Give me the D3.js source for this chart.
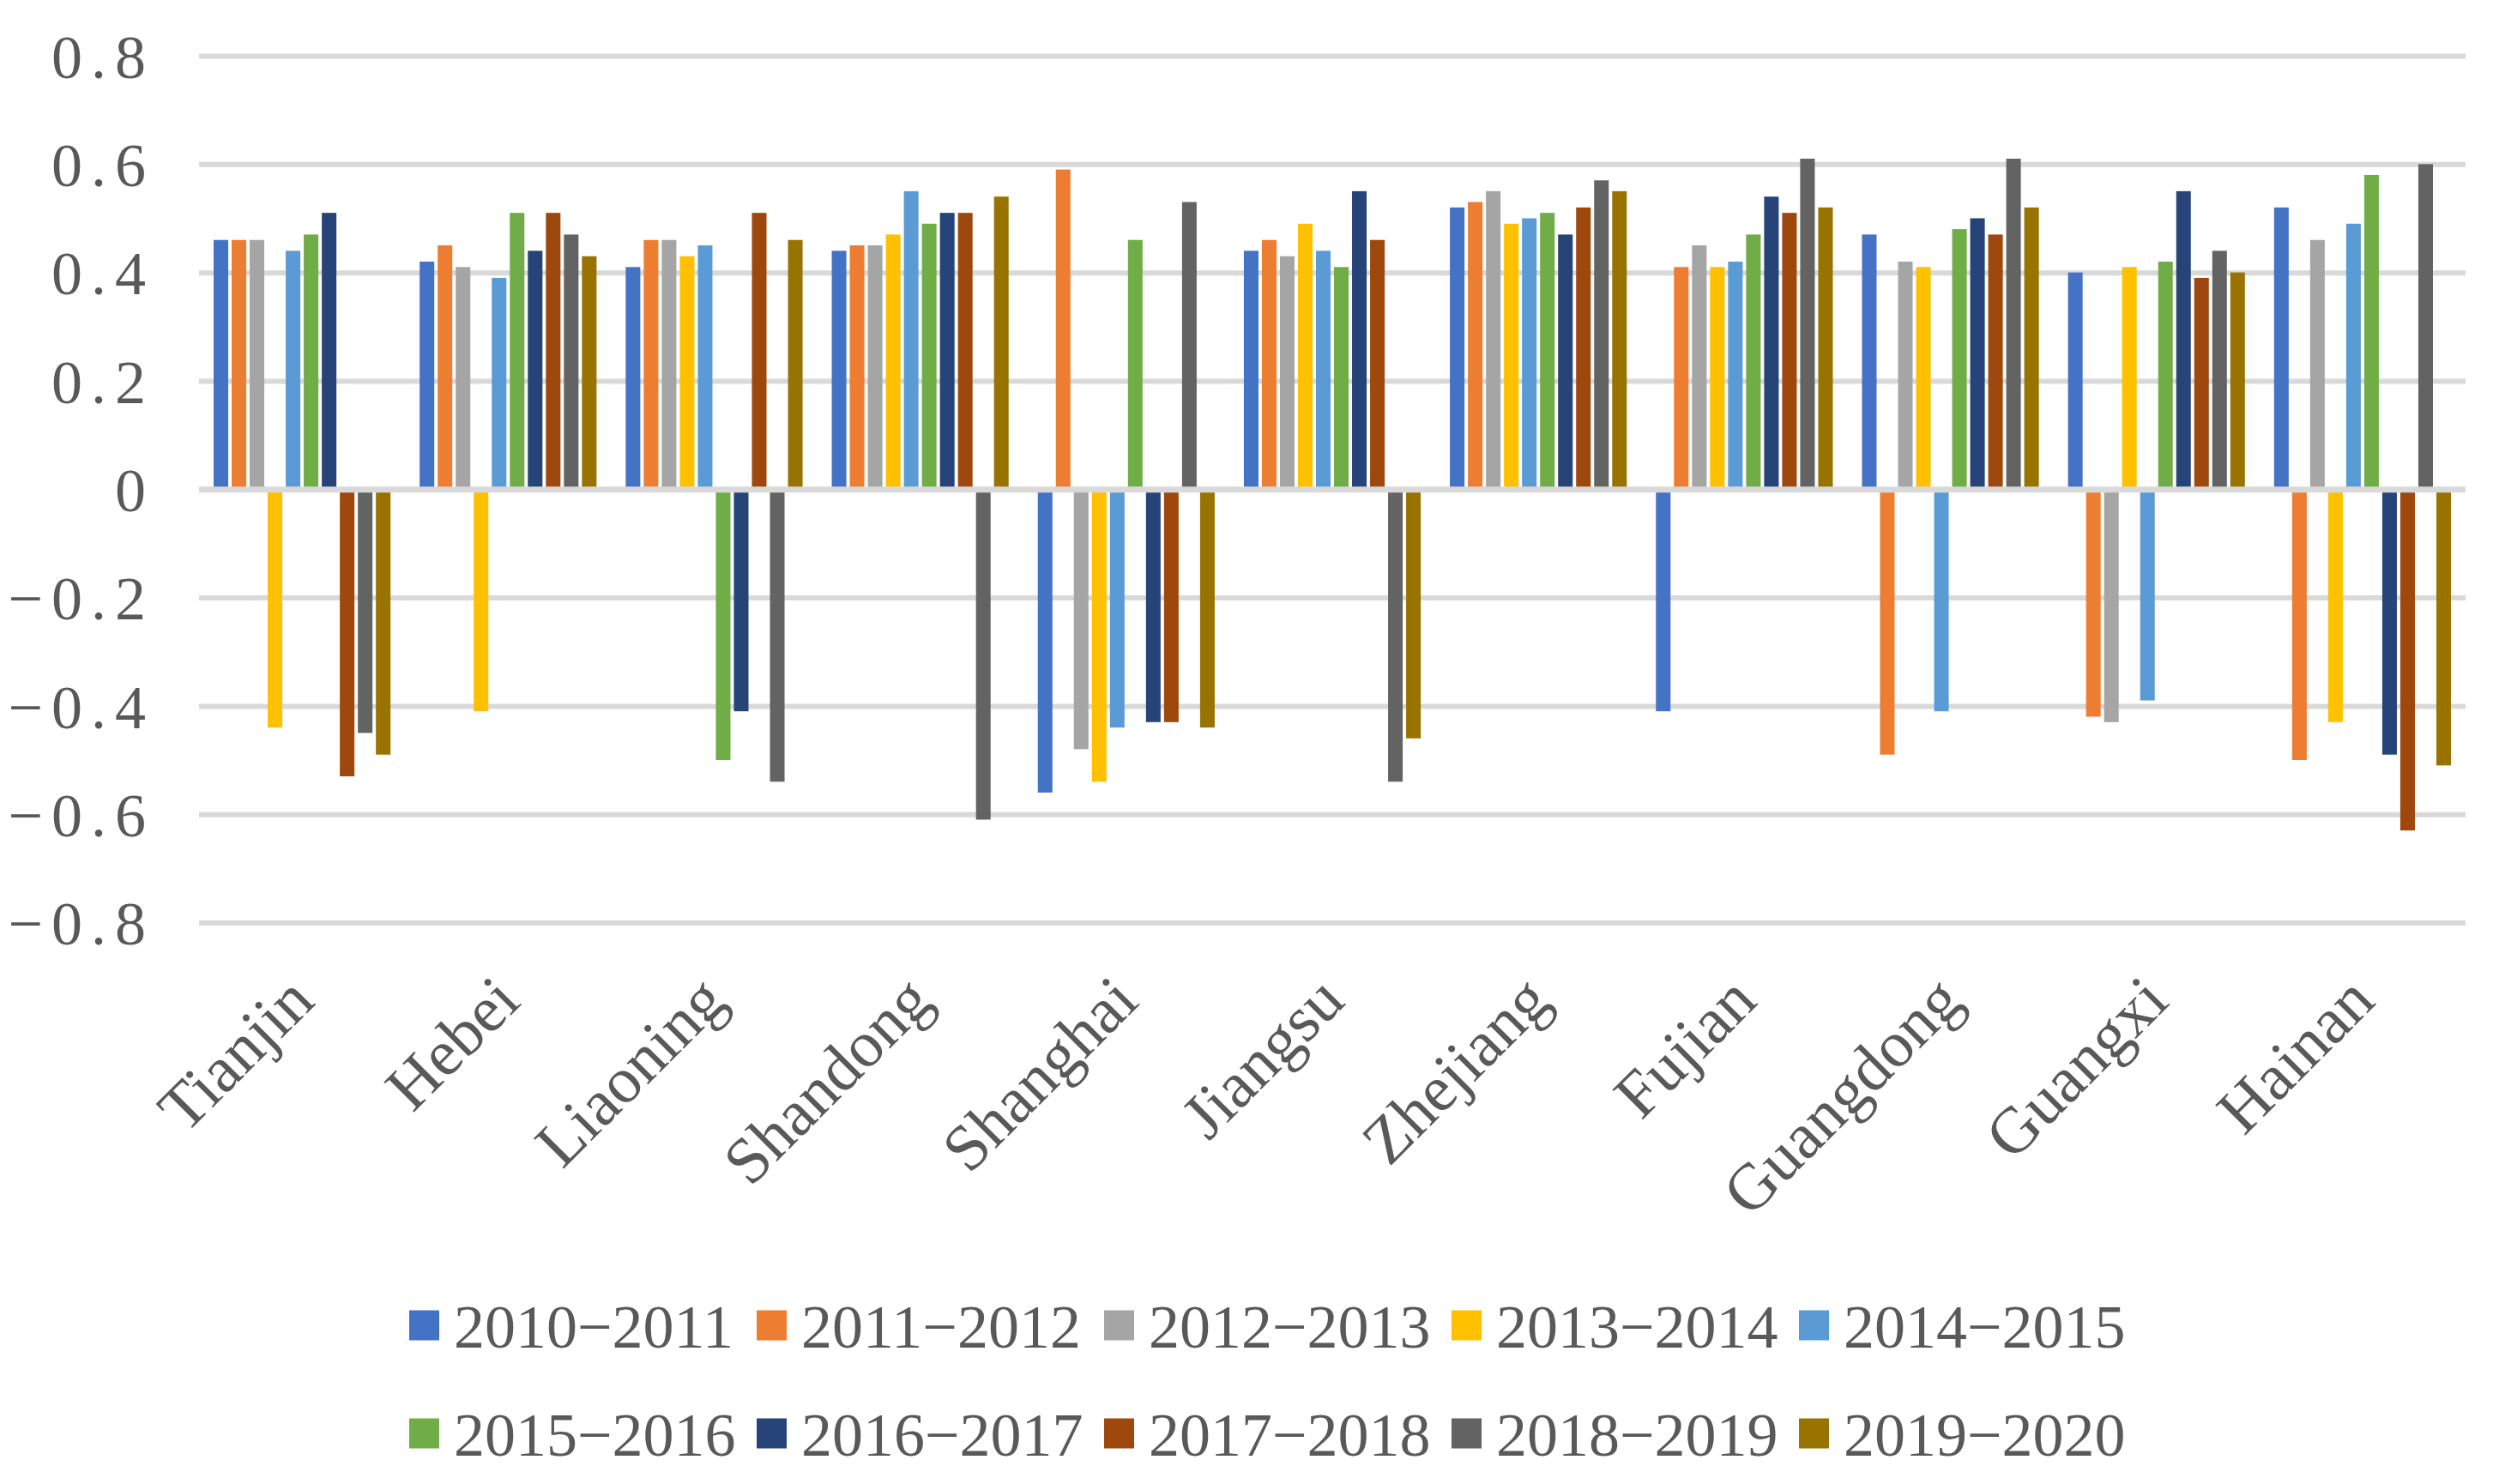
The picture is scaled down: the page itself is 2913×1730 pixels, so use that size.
<!DOCTYPE html>
<html>
<head>
<meta charset="utf-8">
<script src="https://cdn.jsdelivr.net/npm/d3@7"></script>
<style>
  html, body { margin: 0; padding: 0; background: #ffffff; }
  svg { display: block; }
</style>
</head>
<body>
<svg id="chart" width="2913" height="1730"></svg>
<script>
// ---------------- data ----------------
const categories = ["Tianjin", "Hebei", "Liaoning", "Shandong", "Shanghai", "Jiangsu",
                    "Zhejiang", "Fujian", "Guangdong", "Guangxi", "Hainan"];
const seriesNames = ["2010-2011", "2011-2012", "2012-2013", "2013-2014", "2014-2015",
                     "2015-2016", "2016-2017", "2017-2018", "2018-2019", "2019-2020"];
const seriesColors = ["#4472C4", "#ED7D31", "#A5A5A5", "#FFC000", "#5B9BD5",
                      "#70AD47", "#264478", "#9E480E", "#636363", "#997300"];

const s2010_2011 = [0.46, 0.42, 0.41, 0.44, -0.56, 0.44, 0.52, -0.41, 0.47, 0.40, 0.52];
const s2011_2012 = [0.46, 0.45, 0.46, 0.45, 0.59, 0.46, 0.53, 0.41, -0.49, -0.42, -0.50];
const s2012_2013 = [0.46, 0.41, 0.46, 0.45, -0.48, 0.43, 0.55, 0.45, 0.42, -0.43, 0.46];
const s2013_2014 = [-0.44, -0.41, 0.43, 0.47, -0.54, 0.49, 0.49, 0.41, 0.41, 0.41, -0.43];
const s2014_2015 = [0.44, 0.39, 0.45, 0.55, -0.44, 0.44, 0.50, 0.42, -0.41, -0.39, 0.49];
const s2015_2016 = [0.47, 0.51, -0.50, 0.49, 0.46, 0.41, 0.51, 0.47, 0.48, 0.42, 0.58];
const s2016_2017 = [0.51, 0.44, -0.41, 0.51, -0.43, 0.55, 0.47, 0.54, 0.50, 0.55, -0.49];
const s2017_2018 = [-0.53, 0.51, 0.51, 0.51, -0.43, 0.46, 0.52, 0.51, 0.47, 0.39, -0.63];
const s2018_2019 = [-0.45, 0.47, -0.54, -0.61, 0.53, -0.54, 0.57, 0.61, 0.61, 0.44, 0.60];
const s2019_2020 = [-0.49, 0.43, 0.46, 0.54, -0.44, -0.46, 0.55, 0.52, 0.52, 0.40, -0.51];

const yTickValues = [-0.8, -0.6, -0.4, -0.2, 0, 0.2, 0.4, 0.6, 0.8];
const yTickLabels = ["\u22120.8", "\u22120.6", "\u22120.4", "\u22120.2", "0", "0.2", "0.4", "0.6", "0.8"];

const seriesValues = [s2010_2011, s2011_2012, s2012_2013, s2013_2014, s2014_2015,
                      s2015_2016, s2016_2017, s2017_2018, s2018_2019, s2019_2020];

// ---------------- layout ----------------
const W = 2913, H = 1730;
const plotLeft = 232, plotRight = 2874;
const yTop = 65, yBottom = 1075.5;
const textColor = "#595959";
const gridColor = "#D9D9D9";

const svg = d3.select("#chart");
svg.append("rect").attr("width", W).attr("height", H).attr("fill", "#ffffff");

const x0 = d3.scaleBand().domain(categories).range([plotLeft, plotRight]).paddingInner(0).paddingOuter(0);
const bw = x0.bandwidth();
const x1 = d3.scaleBand().domain(seriesNames).range([17, bw - 17]).paddingInner(0.19).paddingOuter(0);
const y = d3.scaleLinear().domain([-0.8, 0.8]).range([yBottom, yTop]);

// gridlines
const grid = svg.append("g")
  .attr("transform", `translate(${plotLeft},0)`)
  .call(d3.axisLeft(y).tickValues(yTickValues.filter(v => v !== 0)).tickSize(-(plotRight - plotLeft)).tickFormat(""));
grid.select(".domain").remove();
grid.selectAll(".tick line").attr("stroke", gridColor).attr("stroke-width", 6);

// bars
const data = [];
categories.forEach((c, ci) => {
  seriesNames.forEach((s, si) => {
    data.push({ cat: c, ser: s, color: seriesColors[si], value: seriesValues[si][ci] });
  });
});

svg.append("g").selectAll("rect")
  .data(data)
  .join("rect")
  .attr("x", d => x0(d.cat) + x1(d.ser))
  .attr("width", x1.bandwidth())
  .attr("y", d => y(Math.max(0, d.value)))
  .attr("height", d => Math.abs(y(d.value) - y(0)))
  .attr("fill", d => d.color);

// zero line on top
const zero = svg.append("g")
  .attr("transform", `translate(${plotLeft},0)`)
  .call(d3.axisLeft(y).tickValues([0]).tickSize(-(plotRight - plotLeft)).tickFormat(""));
zero.select(".domain").remove();
zero.selectAll(".tick line").attr("stroke", gridColor).attr("stroke-width", 7);

// y axis labels
const yAxis = svg.append("g")
  .attr("transform", `translate(${plotLeft},0)`)
  .call(d3.axisLeft(y).tickValues(yTickValues).tickSize(0).tickPadding(52)
        .tickFormat((d, i) => yTickLabels[i]));
yAxis.select(".domain").remove();
yAxis.selectAll(".tick text")
  .attr("fill", textColor)
  .attr("font-family", "'Liberation Serif', 'DejaVu Serif', serif")
  .attr("font-size", 72)
  .attr("letter-spacing", "10px")
  .attr("dy", "0.35em");

// x axis labels
const xAxis = svg.append("g")
  .attr("transform", `translate(0,1170)`)
  .call(d3.axisBottom(x0).tickSize(0));
xAxis.select(".domain").remove();
xAxis.selectAll(".tick text")
  .attr("fill", textColor)
  .attr("font-family", "'Liberation Serif', 'Times New Roman', serif")
  .attr("font-size", 76)
  .attr("text-anchor", "end")
  .attr("x", 0).attr("y", 0).attr("dy", 0)
  .attr("transform", "translate(17,0) rotate(-45)");

// legend
const legend = svg.append("g");
const legendX0 = 477, legendStep = 405;
const legendRowY = [1545, 1671];
seriesNames.forEach((s, i) => {
  const col = i % 5, row = Math.floor(i / 5);
  const gx = legendX0 + col * legendStep;
  const cy = legendRowY[row];
  legend.append("rect")
    .attr("x", gx).attr("y", cy - 17.5)
    .attr("width", 35).attr("height", 35)
    .attr("fill", seriesColors[i]);
  legend.append("text")
    .attr("x", gx + 52).attr("y", cy + 26)
    .attr("fill", textColor)
    .attr("font-family", "'Liberation Serif', 'DejaVu Serif', serif")
    .attr("font-size", 72)
    .text(s.replace("-", "\u2212"));
});
</script>
</body>
</html>
